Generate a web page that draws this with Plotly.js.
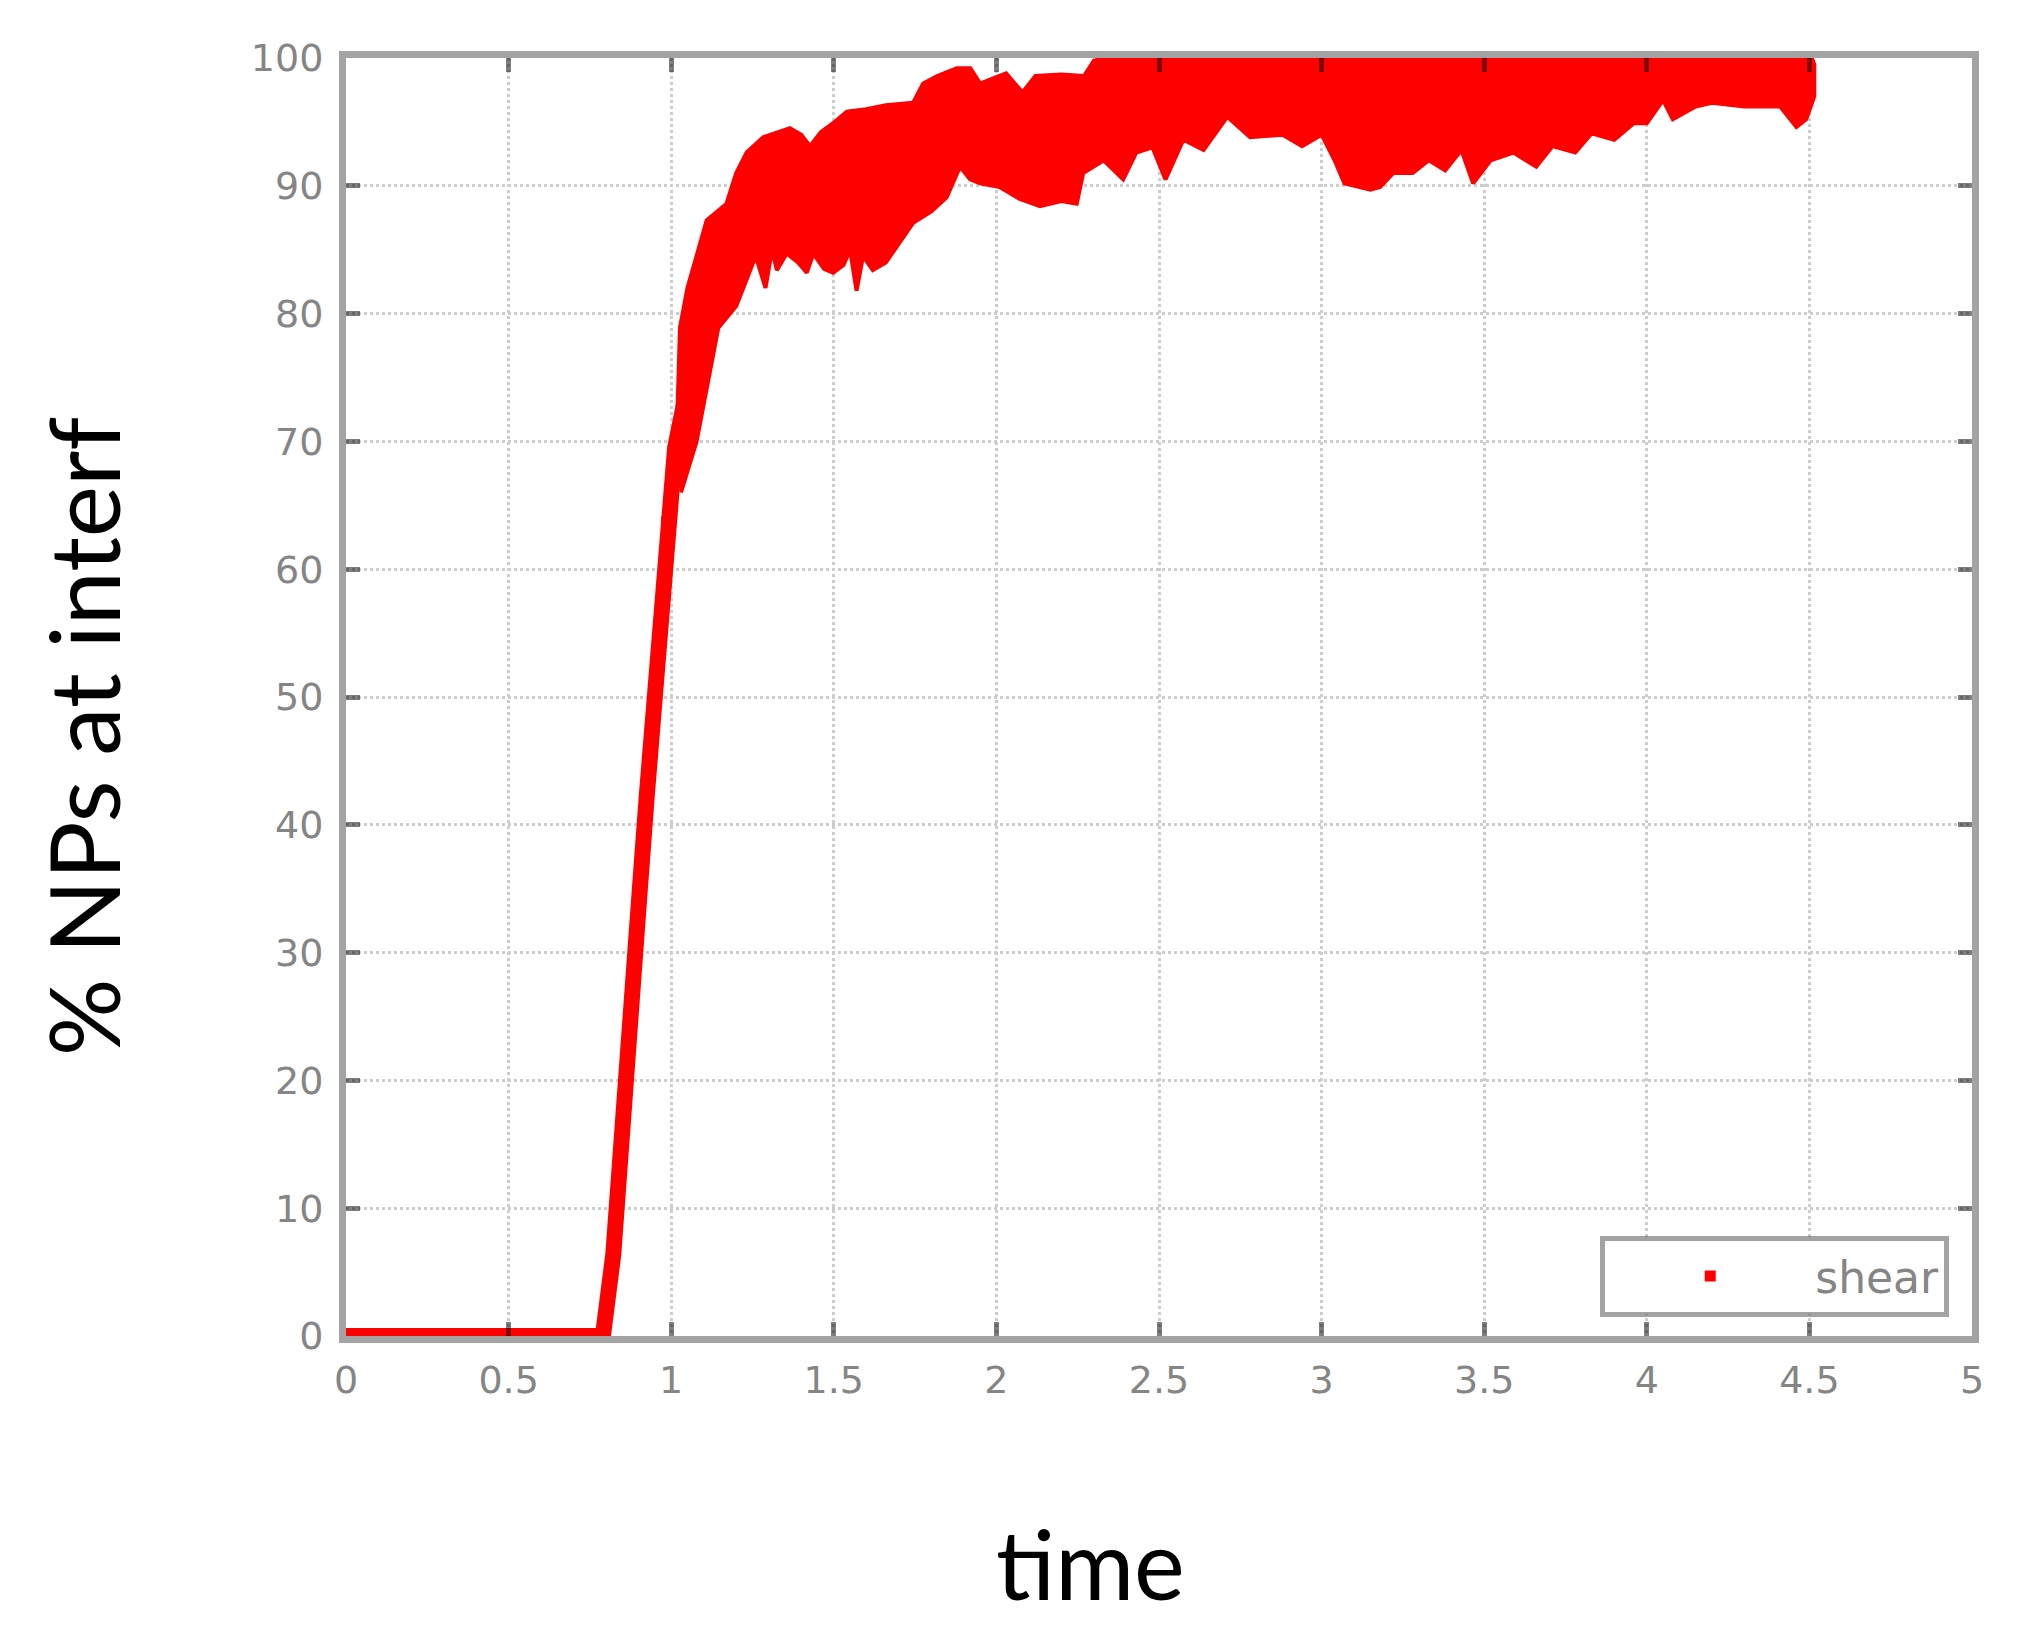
<!DOCTYPE html>
<html>
<head>
<meta charset="utf-8">
<script src="https://cdn.plot.ly/plotly-3.0.1.min.js"></script>
<style>html,body{margin:0;padding:0;background:#fff;}#chart{width:2024px;height:1641px;}</style>
</head>
<body>
<div id="chart"></div>
<script>
// Thick initial curve: flat at zero, then the steep rise
const riseT = [0, 0.79, 0.822, 0.853, 0.878, 0.904, 0.925, 0.945, 0.966, 0.986, 1.012, 1.04];
const riseV = [0, 0, 6.4, 16.0, 25.5, 35.1, 42.3, 49.4, 56.6, 63.7, 69.5, 73.0];

// Upper edge of the dense scatter band
const upperT = [1.0, 1.017, 1.027, 1.05, 1.078, 1.109, 1.17, 1.2, 1.232, 1.283, 1.365, 1.4, 1.427, 1.46, 1.498, 1.54, 1.6, 1.66, 1.744, 1.775, 1.82, 1.878, 1.92, 1.95, 1.99, 2.03, 2.08, 2.12, 2.2, 2.27, 2.3, 2.4, 2.6, 2.8, 3.0, 3.2, 3.4, 3.6, 3.8, 3.9, 4.0, 4.2, 4.4, 4.5, 4.515];
const upperV = [68, 70.5, 78.9, 82.0, 84.5, 87.3, 88.6, 91.0, 92.6, 93.8, 94.5, 94.0, 93.1, 94.2, 94.9, 95.8, 96.0, 96.3, 96.5, 98.0, 98.6, 99.2, 99.2, 98.0, 98.4, 98.8, 97.3, 98.6, 98.7, 98.6, 99.8, 100.3, 100.4, 100.3, 100.4, 100.4, 100.5, 100.4, 100.5, 100.7, 100.8, 100.9, 100.8, 100.5, 99.5];

// Lower edge of the dense scatter band
const lowerT = [1.03, 1.078, 1.145, 1.2, 1.232, 1.26, 1.29, 1.31, 1.325, 1.355, 1.39, 1.417, 1.437, 1.47, 1.498, 1.53, 1.55, 1.57, 1.59, 1.62, 1.66, 1.693, 1.744, 1.8, 1.847, 1.888, 1.919, 1.95, 2.01, 2.07, 2.134, 2.2, 2.247, 2.267, 2.33, 2.39, 2.43, 2.48, 2.52, 2.575, 2.637, 2.71, 2.78, 2.88, 2.94, 3.0, 3.04, 3.07, 3.15, 3.18, 3.22, 3.28, 3.33, 3.38, 3.43, 3.466, 3.52, 3.59, 3.66, 3.71, 3.78, 3.83, 3.9, 3.96, 4.0, 4.05, 4.08, 4.15, 4.2, 4.3, 4.41, 4.46, 4.49, 4.515];
const lowerV = [66.0, 70.0, 78.9, 80.6, 82.6, 84.5, 82.0, 85.0, 83.4, 84.7, 84.0, 83.2, 84.7, 83.5, 83.2, 83.8, 85.0, 81.8, 84.5, 83.4, 84.0, 85.2, 87.1, 88.0, 89.1, 91.5, 90.5, 90.2, 89.9, 89.0, 88.4, 88.8, 88.6, 91.0, 92.0, 90.5, 92.6, 93.0, 90.5, 93.6, 92.8, 95.4, 93.8, 94.0, 93.1, 94.0, 92.0, 90.2, 89.7, 89.9, 91.0, 91.0, 92.0, 91.2, 92.8, 90.2, 92.0, 92.6, 91.5, 93.1, 92.6, 94.1, 93.6, 94.9, 94.9, 96.7, 95.2, 96.2, 96.5, 96.2, 96.2, 94.6, 95.2, 97.0];

const seriesName = 'shear';
const xTicks = [0, 0.5, 1, 1.5, 2, 2.5, 3, 3.5, 4, 4.5, 5];
const yTicks = [0, 10, 20, 30, 40, 50, 60, 70, 80, 90, 100];
const xTitle = 'time';
const yTitle = '% NPs at interf';

const RED = '#ff0000';
const FRAME = 'rgba(0,0,0,0.36)';
const TICKCOL = 'rgba(0,0,0,0.5)';
const LABEL = '#858585';

// Closed band polygon built from the two edges
const bandX = upperT.concat(lowerT.slice().reverse());
const bandY = upperV.concat(lowerV.slice().reverse());

const traces = [
  {
    // the scatter markers of the rise (legend entry), covered by the thick curve
    x: riseT, y: riseV, type: 'scatter', mode: 'markers', name: seriesName,
    marker: {color: RED, size: 11, symbol: 'square'}, showlegend: true, hoverinfo: 'skip'
  },
  {
    x: riseT, y: riseV, type: 'scatter', mode: 'lines',
    line: {color: RED, width: 16}, showlegend: false, hoverinfo: 'skip'
  },
  {
    x: bandX, y: bandY, type: 'scatter', mode: 'lines', fill: 'toself',
    fillcolor: RED, line: {color: RED, width: 4}, showlegend: false, hoverinfo: 'skip'
  }
];

const axisCommon = {
  showline: true, linecolor: FRAME, linewidth: 7, mirror: 'ticks',
  ticks: 'inside', ticklen: 14, tickwidth: 5, tickcolor: TICKCOL,
  showgrid: true, gridcolor: '#cdcdcd', gridwidth: 3, griddash: 'dot',
  zeroline: false, layer: 'above traces',
  tickfont: {family: 'DejaVu Sans, sans-serif', size: 38, color: LABEL}
};

const layout = {
  width: 2024, height: 1641,
  margin: {l: 346, r: 52, t: 58, b: 305},
  paper_bgcolor: '#ffffff', plot_bgcolor: '#ffffff',
  xaxis: Object.assign({}, axisCommon, {
    range: [0, 5], tickvals: xTicks, ticklabelstandoff: 4
  }),
  yaxis: Object.assign({}, axisCommon, {
    range: [0, 100], tickvals: yTicks, ticklabelstandoff: 8
  }),
  showlegend: true,
  legend: {
    x: 0.986, xanchor: 'right', y: 0.015, yanchor: 'bottom',
    bgcolor: '#ffffff', bordercolor: FRAME, borderwidth: 5,
    font: {family: 'DejaVu Sans, sans-serif', size: 44, color: LABEL},
    itemwidth: 200
  },
  annotations: [
    {
      text: yTitle, xref: 'paper', yref: 'paper', x: -0.162, y: 0.469,
      xanchor: 'center', yanchor: 'middle', textangle: -90, showarrow: false,
      font: {family: 'Lato, sans-serif', size: 97, color: '#000000'}
    },
    {
      text: xTitle, xref: 'paper', yref: 'paper', x: 0.458, y: -0.177,
      xanchor: 'center', yanchor: 'middle', showarrow: false,
      font: {family: 'Lato, sans-serif', size: 96, color: '#000000'}
    }
  ]
};

Plotly.newPlot('chart', traces, layout, {displayModeBar: false, staticPlot: true});
</script>
</body>
</html>
